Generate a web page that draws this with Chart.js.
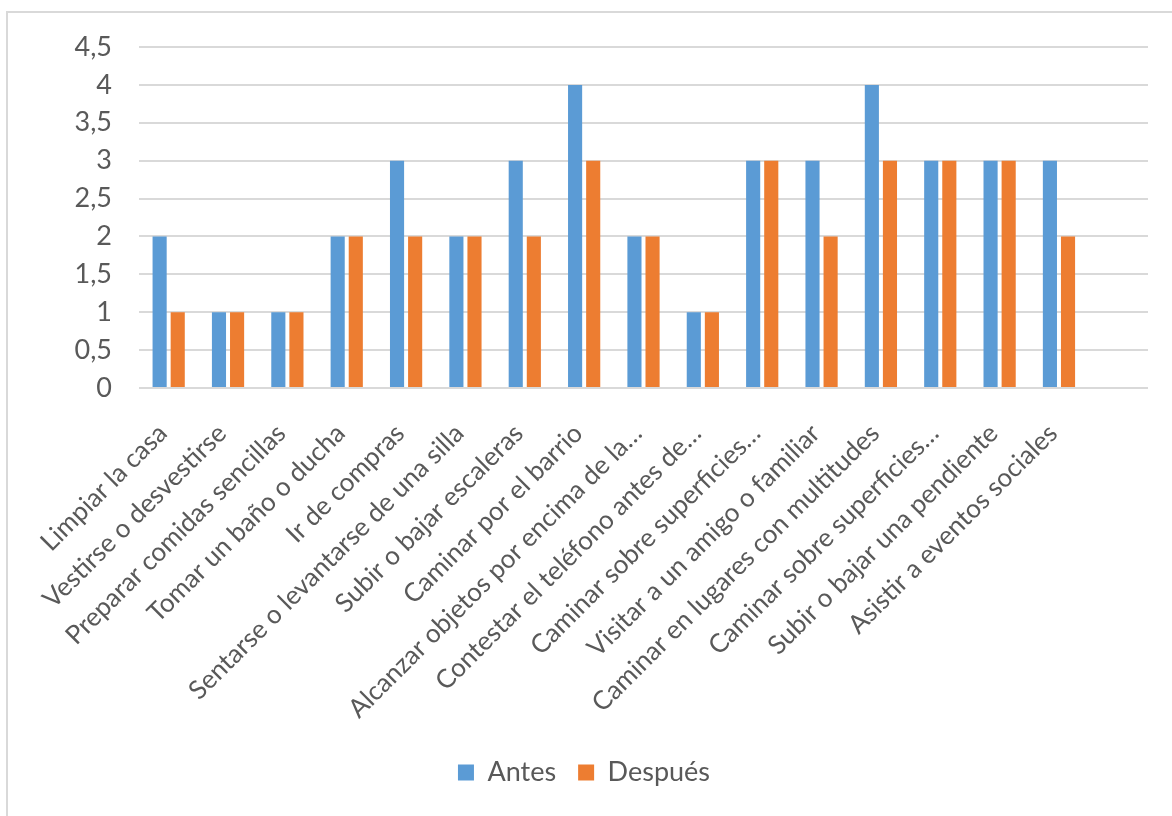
<!DOCTYPE html>
<html>
<head>
<meta charset="utf-8">
<script src="https://cdn.jsdelivr.net/npm/chart.js@4/dist/chart.umd.min.js"></script>
<style>
  html, body { margin: 0; padding: 0; background: #fff; }
  #frame {
    position: absolute; left: 6px; top: 11px; width: 1180px; height: 820px;
    border: 2px solid #d9d9d9; box-sizing: border-box;
  }
  #wrap { position: absolute; left: 0; top: 0; width: 1172px; height: 816px; }
</style>
</head>
<body>
<div id="frame"></div>
<div id="wrap"><canvas id="my-chart"></canvas></div>
<script>
const categories = [
  "Limpiar la casa",
  "Vestirse o desvestirse",
  "Preparar comidas sencillas",
  "Tomar un baño o ducha",
  "Ir de compras",
  "Sentarse o levantarse de una silla",
  "Subir o bajar escaleras",
  "Caminar por el barrio",
  "Alcanzar objetos por encima de la…",
  "Contestar el teléfono antes de…",
  "Caminar sobre superficies…",
  "Visitar a un amigo o familiar",
  "Caminar en lugares con multitudes",
  "Caminar sobre superficies…",
  "Subir o bajar una pendiente",
  "Asistir a eventos sociales",
  "",
];
const antes = [2, 1, 1, 2, 3, 2, 3, 4, 2, 1, 3, 3, 4, 3, 3, 3, null];
const despues = [1, 1, 1, 2, 2, 2, 2, 3, 2, 1, 3, 2, 3, 3, 3, 2, null];
const yTicks = [0, 0.5, 1, 1.5, 2, 2.5, 3, 3.5, 4, 4.5];

const textColor = "#595959";
const gridColor = "#d9d9d9";
const fontFamily = "Lato, 'Open Sans', sans-serif";

const ctx = document.getElementById("my-chart");

new Chart(ctx, {
  type: "bar",
  data: {
    labels: categories,
    datasets: [
      {
        label: "Antes",
        data: antes,
        backgroundColor: "#5B9BD5",
        categoryPercentage: 0.61,
        barPercentage: 0.78,
      },
      {
        label: "Después",
        data: despues,
        backgroundColor: "#ED7D31",
        categoryPercentage: 0.61,
        barPercentage: 0.78,
      },
    ],
  },
  options: {
    responsive: true,
    maintainAspectRatio: false,
    animation: false,
    layout: {
      padding: { left: 20, right: 24, top: 47, bottom: 20 },
    },
    plugins: {
      tooltip: { enabled: false },
      legend: {
        position: "bottom",
        labels: {
          color: textColor,
          font: { family: fontFamily, size: 27 },
          boxWidth: 16,
          boxHeight: 16,
          padding: 22,
        },
      },
    },
    scales: {
      x: {
        grid: { display: false, drawTicks: false },
        border: { display: false },
        ticks: {
          color: textColor,
          font: { family: fontFamily, size: 26 },
          minRotation: 45,
          maxRotation: 45,
          autoSkip: false,
          padding: 30,
          labelOffset: -6,
        },
        afterFit: (scale) => {
          scale.height = 349;
        },
      },
      y: {
        min: 0,
        max: 4.5,
        afterBuildTicks: (scale) => {
          scale.ticks = yTicks.map((v) => ({ value: v }));
        },
        grid: { color: gridColor, lineWidth: 2, drawTicks: false },
        border: { display: false },
        ticks: {
          color: textColor,
          font: { family: fontFamily, size: 27 },
          padding: 27,
          callback: (v) => String(v).replace(".", ","),
        },
        afterFit: (scale) => {
          scale.width = 119;
        },
      },
    },
  },
});
</script>
</body>
</html>
